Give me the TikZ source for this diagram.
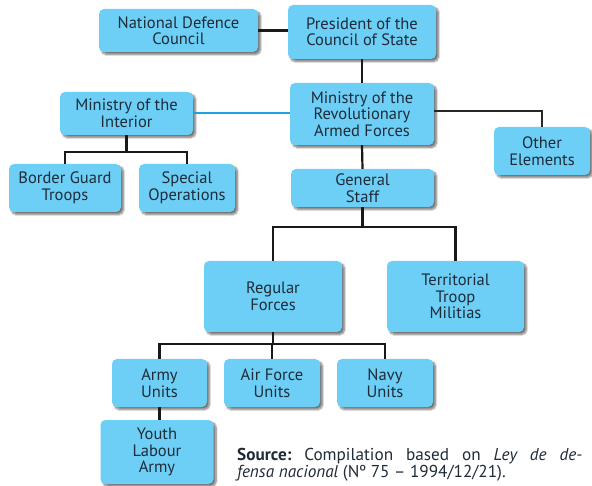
\documentclass[tikz,border=0pt]{standalone}
\usepackage{fontspec}
\setmainfont{PT Sans}
\usepackage{xcolor}
\usepackage{tikz}
\usetikzlibrary{calc,positioning,shadows.blur}
\definecolor{boxcyan}{HTML}{6DCFF6}
\definecolor{linecyan}{HTML}{1BA3DF}
\definecolor{inkblue}{HTML}{1E2B38}

\begin{document}
\begin{tikzpicture}[x=1pt,y=-1pt,
	unit/.style={fill=boxcyan,rounded corners=5pt,align=center,text=inkblue,
		font=\fontsize{16.5}{16.5}\selectfont,inner sep=2pt,
		blur shadow={shadow xshift=2.5pt,shadow yshift=-2.5pt,shadow blur steps=8,shadow opacity=55}},
	bar/.style={line width=2.2pt,black!90},
	thin bar/.style={line width=1.3pt,black!85},
	blue bar/.style={line width=2pt,linecyan}]
	\useasboundingbox (0,0) rectangle (592,486);
	% top of the chart
	\node[unit,minimum width=159pt,minimum height=43pt] (ndc) at (178.5,30.5) {National Defence\\Council};
	\node[unit,minimum width=148pt,minimum height=54pt] (pres) at (362,32) {President of the\\Council of State};
	\node[unit,minimum width=144pt,minimum height=62pt] (mraf) at (362,114) {Ministry of the\\Revolutionary\\Armed Forces};
	\node[unit,minimum width=96pt,minimum height=48pt] (other) at (542,151) {Other\\Elements};
	\node[unit,minimum width=143pt,minimum height=38pt] (gs) at (362.5,188) {General\\Staff};
	% interior
	\node[unit,minimum width=133pt,minimum height=43pt] (mint) at (126.5,113.5) {Ministry of the\\Interior};
	\node[unit,minimum width=112pt,minimum height=48pt] (bgt) at (65,188) {Border Guard\\Troops};
	\node[unit,minimum width=96pt,minimum height=48pt] (spo) at (187,188) {Special\\Operations};
	% forces
	\node[unit,minimum width=138pt,minimum height=71pt] (reg) at (273,296.5) {Regular\\Forces};
	\node[unit,minimum width=137pt,minimum height=71pt] (ttm) at (455.5,296.5) {Territorial\\Troop\\Militias};
	\node[unit,minimum width=95pt,minimum height=48pt] (army) at (159.5,383) {Army\\Units};
	\node[unit,minimum width=96pt,minimum height=48pt] (air) at (272,383) {Air Force\\Units};
	\node[unit,minimum width=96pt,minimum height=48pt] (navy) at (385,383) {Navy\\Units};
	\node[unit,minimum width=113pt,minimum height=64pt] (yla) at (157,452) {Youth\\Labour\\Army};
	% connectors
	\draw[bar] (ndc.east) -- (ndc.east -| pres.west);
	\draw[bar] (pres.south) -- (mraf.north);
	\draw[bar] (mraf.south) -- (gs.north);
	\draw[thin bar] ($(mraf.east)+(0,-3)$) -| (other.north);
	\draw[blue bar] (mint.east) -- (mint.east -| mraf.west);
	\draw[bar] (mint.south) -- ++(0,17) -| (bgt.north);
	\draw[bar] (mint.south) ++(0,17) -| (spo.north);
	\draw[bar] (gs.south) -- ++(0,20) -| (reg.north);
	\draw[bar] (gs.south) ++(0,20) -| (ttm.north);
	\foreach \u in {army,air,navy}
	\draw[bar] (reg.south) -- ++(0,12) -| (\u.north);
	\draw[bar] (army.south) -- (army.south |- yla.north);
	\node[anchor=west,inner sep=0pt,text width=345pt,align=justify,text=inkblue,
		font=\fontsize{17.2}{16.5}\selectfont\frenchspacing] (src) at (237,465)
		{\textbf{Source:} Compilation based on \textit{Ley de de-}\linebreak\textit{fensa nacional} (Nº~75 – 1994/12/21).};
\end{tikzpicture}
\end{document}
